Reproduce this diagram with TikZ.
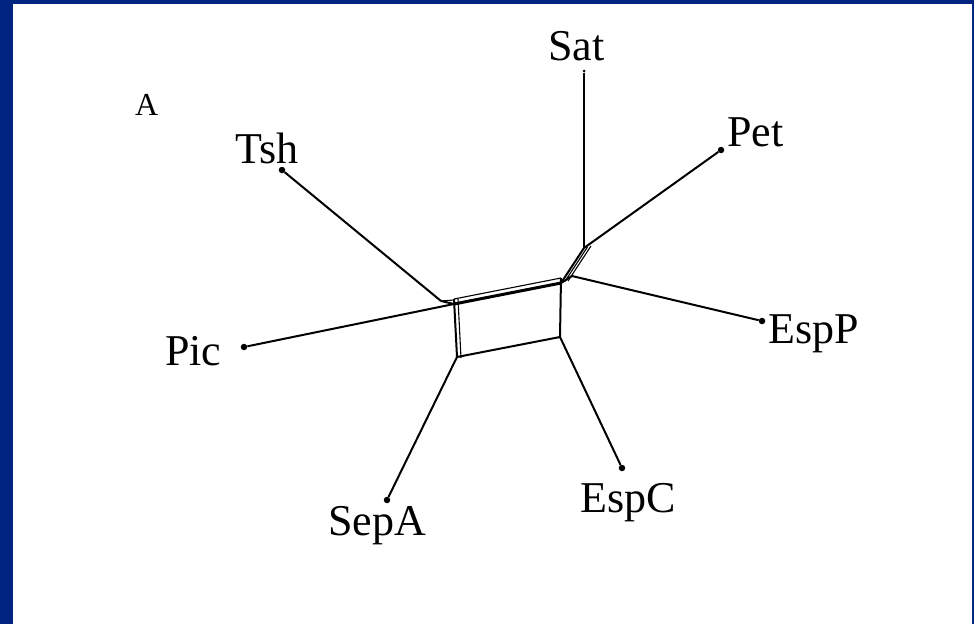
\documentclass[tikz,border=0pt]{standalone}
\usepackage{fontspec}
\setmainfont{Liberation Serif}
\definecolor{frameblue}{RGB}{0,36,128}
\begin{document}
\begin{tikzpicture}[x=1pt,y=-1pt,
  edge/.style={line width=2pt,black},
  thinedge/.style={line width=1.1pt,black},
  leaf/.style={circle,fill=black,inner sep=0pt,minimum size=6.5pt},
  lab/.style={font=\fontsize{44}{44}\selectfont,inner sep=0pt,anchor=base west},
  tag/.style={font=\fontsize{32}{32}\selectfont,inner sep=0pt,anchor=base west}]
\fill[frameblue] (0,0) rectangle (974,624);
\fill[white] (13,4) rectangle (972,624);
\useasboundingbox (0,0) rectangle (974,624);
% leaves
\node[leaf,minimum size=3pt] (sat) at (584,71) {};
\node[leaf] (pet) at (721,150) {};
\node[leaf] (tsh) at (282,170) {};
\node[leaf] (pic) at (244,347) {};
\node[leaf] (espp) at (762,321) {};
\node[leaf] (espc) at (622,468) {};
\node[leaf] (sepa) at (387,500) {};
% internal
\coordinate (lt) at (454,304);
\coordinate (lj) at (441,301);
\coordinate (rt) at (561,283);
\coordinate (rj) at (572,276);
\coordinate (up) at (584,248);
\coordinate (rb) at (560,337);
\coordinate (lb) at (457,357);
% labels
\node[lab] (satl) at (548,60) {Sat};
\node[lab] (petl) at (727,146) {Pet};
\node[lab] (tshl) at (235,163) {Tsh};
\node[lab] (picl) at (165,365) {Pic};
\node[lab] (esppl) at (768,343) {EspP};
\node[lab] (espcl) at (580,512) {EspC};
\node[lab] (sepal) at (328,535) {SepA};
\node[tag] (al) at (135,115) {A};
% pendant edges
\draw[edge] (sat) -- (up);
\draw[edge] (pet) -- (up);
\draw[edge] (tsh) -- (lj);
\draw[edge] (pic) -- (lt);
\draw[edge] (espp) -- (rj);
\draw[edge] (espc) -- (rb);
\draw[edge] (sepa) -- (lb);
% splits
\draw[edge] (lj) -- (lt);
\draw[thinedge] (lj) -- ([yshift=4]lt);
\draw[line width=3pt] (lt) -- (rt);
\draw[thinedge] ([yshift=5]lt) -- ([yshift=5]rt);
\draw[edge] (rt) -- (up);
\draw[thinedge] ([xshift=3.5,yshift=1]rt) -- ([xshift=3.5,yshift=1]up);
\draw[thinedge] ([xshift=7,yshift=2]rt) -- ([xshift=7,yshift=2]up);
\draw[edge] (rt) -- (rj);
\draw[edge] ([yshift=5]rt) -- (rb);
\draw[edge] (rb) -- (lb);
\draw[edge] ([yshift=5]lt) -- (lb);
\draw[thinedge] ([xshift=4,yshift=5]lt) -- ([xshift=4,yshift=-1]lb);
\end{tikzpicture}
\end{document}
